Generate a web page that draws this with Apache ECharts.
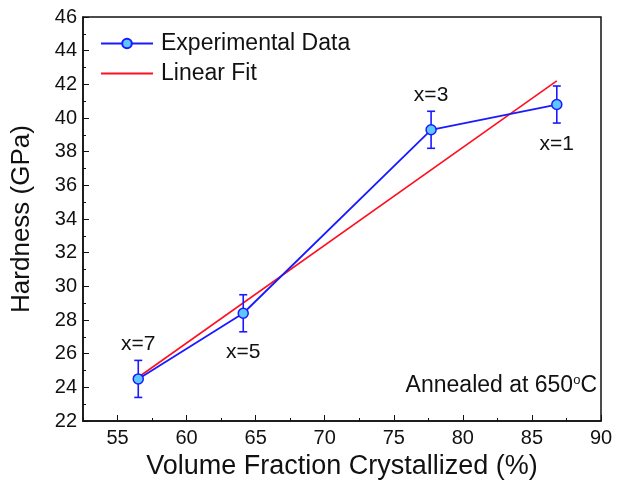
<!DOCTYPE html>
<html>
<head>
<meta charset="utf-8">
<script src="https://cdn.jsdelivr.net/npm/echarts@6/dist/echarts.min.js"></script>
<style>
  html, body { margin: 0; padding: 0; background: #fff; }
  #chart { width: 621px; height: 480px; }
</style>
</head>
<body>
<div id="chart"></div>
<script>
// values
var fraction = [56.5, 64.1, 77.7, 86.8];
var hardness = [24.5, 28.4, 39.3, 40.8];
var hardnessErr = [1.1, 1.1, 1.1, 1.1];
var pointLabels = ['x=7', 'x=5', 'x=3', 'x=1'];
var fitX = [56.5, 86.8];
var fitY = [24.6, 42.2];
var xMajor = [55, 60, 65, 70, 75, 80, 85, 90];

var FONT = 'Liberation Sans, Arial, sans-serif';
var chart = echarts.init(document.getElementById('chart'));

var expData = fraction.map(function (x, i) {
    var above = i % 2 === 0;
    return {
        value: [x, hardness[i]],
        label: {
            show: true,
            formatter: pointLabels[i],
            position: above ? 'top' : 'bottom',
            distance: above ? 18 : 23,
            color: '#111',
            fontSize: 21,
            fontFamily: FONT
        }
    };
});
var errData = fraction.map(function (x, i) {
    return [x, hardness[i] - hardnessErr[i], hardness[i] + hardnessErr[i]];
});
var fitData = fitX.map(function (x, i) { return [x, fitY[i]]; });

var option = {
    backgroundColor: '#fff',
    animation: false,
    grid: {
        left: 83, right: 20, top: 17, bottom: 59,
        outerBoundsMode: 'none',
        containLabel: false,
        show: true, borderColor: '#111', borderWidth: 1.5, backgroundColor: 'transparent'
    },
    legend: {
        data: [
            { name: 'Experimental Data' },
            { name: 'Linear Fit', itemStyle: { opacity: 0 } }
        ],
        orient: 'vertical',
        left: 100, top: 32, padding: 0,
        itemWidth: 52, itemHeight: 12, itemGap: 7,
        textStyle: { fontSize: 23, color: '#111', fontFamily: FONT, padding: [0, 0, 0, 3] }
    },
    xAxis: [{
        type: 'value', min: 52.5, max: 90, interval: 2.5,
        position: 'bottom',
        axisLine: { show: true, lineStyle: { color: '#111', width: 1.5 } },
        axisTick: { inside: true, length: 3, lineStyle: { color: '#111' } },
        axisLabel: { show: false },
        splitLine: { show: false }
    }, {
        type: 'value', min: 52.5, max: 90,
        position: 'bottom',
        name: 'Volume Fraction Crystallized (%)',
        nameLocation: 'middle', nameGap: 31,
        nameTextStyle: { fontSize: 27, color: '#111', fontFamily: FONT },
        axisLine: { show: false },
        axisTick: { show: true, inside: true, length: 6, customValues: xMajor, lineStyle: { color: '#111' } },
        axisLabel: { customValues: xMajor, fontSize: 20, color: '#111', fontFamily: FONT, margin: 7 },
        splitLine: { show: false }
    }],
    yAxis: {
        type: 'value', min: 22, max: 46, interval: 2,
        name: 'Hardness (GPa)',
        nameLocation: 'middle', nameGap: 48,
        nameTextStyle: { fontSize: 26, color: '#111', fontFamily: FONT },
        axisLine: { show: true, lineStyle: { color: '#111', width: 1.5 } },
        axisTick: { inside: true, length: 6, lineStyle: { color: '#111' } },
        minorTick: { show: true, splitNumber: 2, length: 3, lineStyle: { color: '#111' } },
        axisLabel: { fontSize: 20, color: '#111', fontFamily: FONT, margin: 6 },
        splitLine: { show: false }
    },
    series: [{
        name: 'Linear Fit',
        type: 'line',
        data: fitData,
        symbol: 'none',
        lineStyle: { color: '#ff1020', width: 1.6 },
        itemStyle: { color: '#ff1020' },
        z: 2
    }, {
        name: 'errors',
        type: 'custom',
        data: errData,
        z: 3,
        renderItem: function (params, api) {
            var lo = api.coord([api.value(0), api.value(1)]);
            var hi = api.coord([api.value(0), api.value(2)]);
            var w = 4;
            var style = { stroke: '#1a1aff', lineWidth: 1.6 };
            return {
                type: 'group',
                children: [
                    { type: 'line', shape: { x1: lo[0], y1: lo[1], x2: hi[0], y2: hi[1] }, style: style },
                    { type: 'line', shape: { x1: lo[0] - w, y1: lo[1], x2: lo[0] + w, y2: lo[1] }, style: style },
                    { type: 'line', shape: { x1: hi[0] - w, y1: hi[1], x2: hi[0] + w, y2: hi[1] }, style: style }
                ]
            };
        }
    }, {
        name: 'Experimental Data',
        type: 'line',
        data: expData,
        symbol: 'circle',
        symbolSize: 10,
        lineStyle: { color: '#1a1aff', width: 1.8 },
        itemStyle: { color: '#5cc8ff', borderColor: '#1a1aff', borderWidth: 1.5 },
        z: 4
    }],
    graphic: [{
        type: 'text',
        right: 24, top: 374,
        style: {
            text: '{a|Annealed at 650}{s|o}{a|C}',
            rich: {
                a: { fontSize: 23, fill: '#111', fontFamily: FONT },
                s: { fontSize: 13, fill: '#111', fontFamily: FONT, padding: [0, 0, 11, 0] }
            }
        }
    }]
};
chart.setOption(option);
</script>
</body>
</html>
